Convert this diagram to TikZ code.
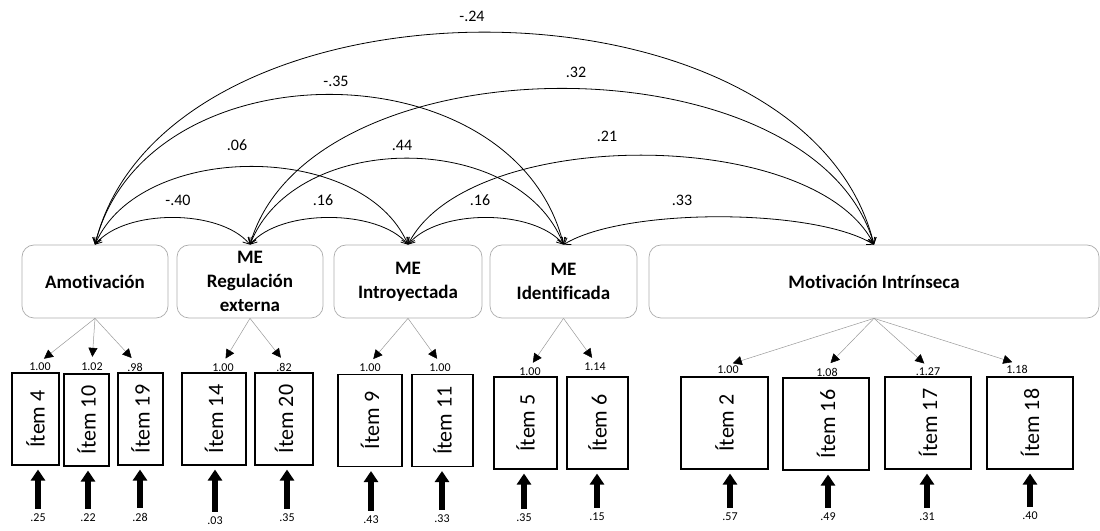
\documentclass[tikz,border=0pt]{standalone}
\usepackage{fontspec}
\setmainfont{Carlito}[Ligatures=CommonOff]
\usepackage{graphicx}
\usetikzlibrary{arrows.meta,positioning}

\begin{document}
\begin{tikzpicture}[x=1pt, y=1pt,
		factor/.style={rectangle, rounded corners=12pt, draw=gray!65, line width=0.7pt, minimum height=73pt, inner sep=2pt, align=center, font=\fontsize{19}{24}\selectfont\bfseries, text=black},
		item/.style={rectangle, draw=black, line width=1.1pt, minimum height=92pt, inner sep=1pt, font=\fontsize{22}{26}\selectfont, text=black},
		lbl/.style={font=\fontsize{12}{14}\selectfont, inner sep=1pt, text=black},
		covlbl/.style={font=\fontsize{16}{19}\selectfont, inner sep=1pt, text=black},
		cov/.style={{Straight Barb[length=6pt,width=8pt]}-{Straight Barb[length=6pt,width=8pt]}, line width=0.8pt},
		load/.style={-{Triangle[length=9pt,width=9pt,black]}, draw=gray!80, line width=0.5pt, shorten >=5pt},
		err/.style={-{Triangle[length=11pt,width=14pt]}, line width=5.5pt, shorten <=4pt, shorten >=4pt}]
	\useasboundingbox (0,0) rectangle (1100,530);

	% factores
	\node[factor, minimum width=146pt] (amot) at (95,248.5) {Amotivación};
	\node[factor, minimum width=146pt] (regext) at (250,248.5) {ME\\Regulación\\externa};
	\node[factor, minimum width=148pt] (intro) at (408,248.5) {ME\\Introyectada};
	\node[factor, minimum width=147pt] (ident) at (563.5,248.5) {ME\\Identificada};
	\node[factor, minimum width=450pt] (intr) at (874,248.5) {Motivación Intrínseca};

	% items
	\foreach \n/\x/\y/\w in {4/35.5/111/47, 10/86.5/110/45, 19/140.5/111/45, 14/214/111/64, 20/284/111/58,
		9/370/109.5/64, 11/442.5/109.5/61, 5/525.5/107/63, 6/597.5/107/61,
		2/724.5/107/87, 16/826/106/86, 17/928/107/86, 18/1030/107/86}
		\node[item, minimum width=\w pt] (i\n) at (\x,\y) {\rotatebox{90}{Ítem \n}};

	% cargas
	\foreach \n/\x/\y/\t in {4/40/163/1.00, 10/92/163/1.02, 19/135/163/.98, 14/223/162/1.00, 20/284/163/.82,
		9/370/162/1.00, 11/440/162/1.00, 5/530/158/1.00, 6/595/163/1.14,
		2/728/160/1.00, 16/827/158/1.08, 17/928/158/.1.27, 18/1017/161/1.18}
		\node[lbl] (l\n) at (\x,\y) {\t};

	\foreach \f/\n in {amot/4, amot/10, amot/19, regext/14, regext/20, intro/9, intro/11,
		ident/5, ident/6, intr/2, intr/16, intr/17, intr/18}
		\draw[load] (\f.south) -- (l\n.north);

	% errores
	\foreach \n/\x/\y/\t in {4/38/12/.25, 10/88/12/.22, 19/140/13/.28, 14/215/9/.03, 20/287/12/.35,
		9/371/10/.43, 11/442/11/.33, 5/524/12/.35, 6/597/13/.15,
		2/730/13/.57, 16/828/13/.49, 17/927/13/.31, 18/1030/14/.40} {
		\node[lbl] (e\n) at (\x,\y) {\t};
		\draw[err] (e\n.north) -- (e\n.north |- i\n.south);
	}

	% covarianzas
	\draw[cov] (amot.north) .. controls +(30,36) and +(-30,36) .. (regext.north);
	\draw[cov] (regext.north) .. controls +(30,36) and +(-30,36) .. (intro.north);
	\draw[cov] (intro.north) .. controls +(30,36) and +(-30,36) .. (ident.north);
	\draw[cov] (ident.north) .. controls +(60,37) and +(-60,37) .. (intr.north);
	\draw[cov] (amot.north) .. controls +(45,104) and +(-45,104) .. (intro.north);
	\draw[cov] (regext.north) .. controls +(45,115) and +(-45,115) .. (ident.north);
	\draw[cov] (intro.north) .. controls +(60,119) and +(-60,119) .. (intr.north);
	\draw[cov] (amot.north) .. controls +(50,200) and +(-50,200) .. (ident.north);
	\draw[cov] (regext.north) .. controls +(60,208) and +(-60,208) .. (intr.north);
	\draw[cov] (amot.north) .. controls +(70,283) and +(-70,283) .. (intr.north);

	\node[covlbl] (c1) at (178,330) {-.40};
	\node[covlbl] (c2) at (323,330) {.16};
	\node[covlbl] (c3) at (480,330) {.16};
	\node[covlbl] (c4) at (682,330) {.33};
	\node[covlbl] (c5) at (237,385) {.06};
	\node[covlbl] (c6) at (402,385) {.44};
	\node[covlbl] (c7) at (607,394) {.21};
	\node[covlbl] (c8) at (336,449) {-.35};
	\node[covlbl] (c9) at (576,458) {.32};
	\node[covlbl] (c10) at (472,514) {-.24};
\end{tikzpicture}
\end{document}
